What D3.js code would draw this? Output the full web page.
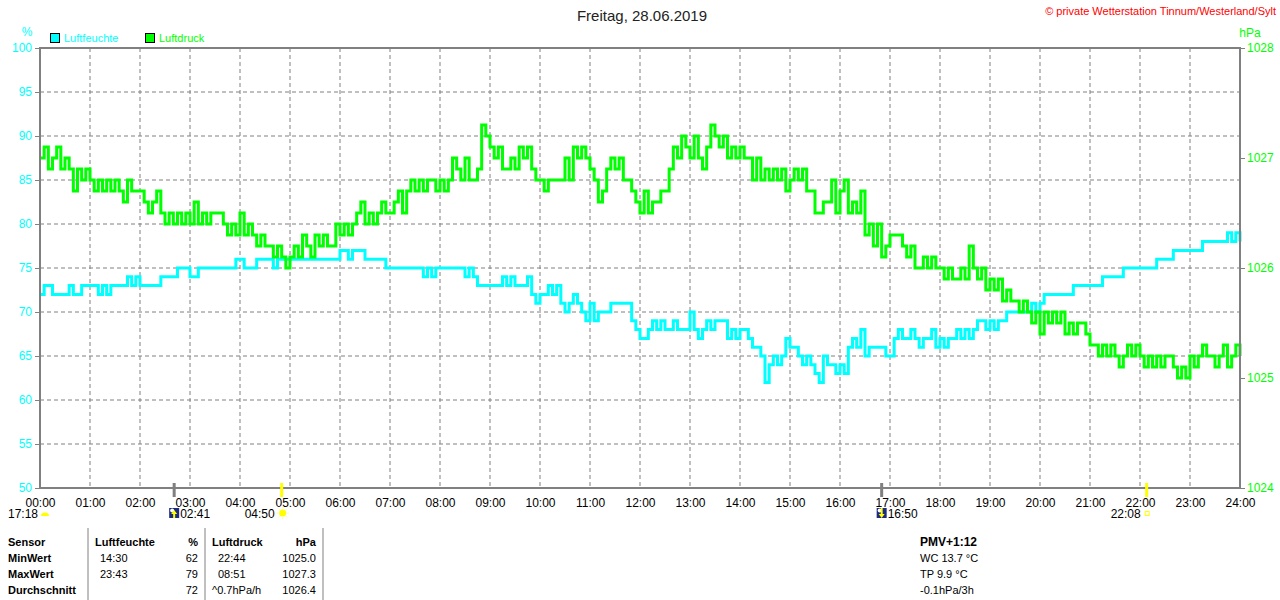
<!DOCTYPE html>
<html>
<head>
<meta charset="utf-8">
<script src="https://cdn.jsdelivr.net/npm/d3@7"></script>
<style>
  body { margin: 0; background: #fff; }
  svg { font-family: "Liberation Sans", Arial, sans-serif; display: block; }
</style>
</head>
<body>
<div id="chart"></div>
<script>
// values every 5 minutes, 00:00 .. 24:00
const humidity = [
  72,73,73,72,72,72,72,73,72,72,73,73,   // 00
  73,73,72,73,72,73,73,73,73,74,73,74,   // 01
  73,73,73,73,73,74,74,74,74,75,75,75,   // 02
  74,74,75,75,75,75,75,75,75,75,75,76,   // 03
  76,75,75,75,76,76,76,76,75,76,76,76,   // 04
  76,76,76,76,76,76,76,76,76,76,76,76,   // 05
  77,77,76,77,77,77,76,76,76,76,76,75,   // 06
  75,75,75,75,75,75,75,75,74,75,74,75,   // 07
  75,75,75,75,75,75,74,75,74,73,73,73,   // 08
  73,73,73,74,73,74,73,73,73,74,72,71,   // 09
  72,72,73,72,73,71,70,71,72,71,70,69,   // 10
  71,69,70,70,70,71,71,71,71,71,69,68,   // 11
  67,67,68,69,68,69,68,68,69,68,68,68,   // 12
  70,68,67,68,69,68,69,69,69,67,68,67,   // 13
  68,68,67,66,66,65,62,64,65,64,65,67,   // 14
  66,66,65,64,65,64,63,62,65,64,64,63,   // 15
  64,63,66,67,66,68,65,66,66,66,66,65,   // 16
  65,67,68,67,67,68,67,66,67,67,68,66,   // 17
  67,66,67,67,68,67,68,67,68,69,69,68,   // 18
  69,68,69,69,70,70,70,70,70,70,71,70,   // 19
  71,72,72,72,72,72,72,72,73,73,73,73,   // 20
  73,73,73,74,74,74,74,74,75,75,75,75,   // 21
  75,75,75,75,76,76,76,76,77,77,77,77,   // 22
  77,77,77,78,78,78,78,78,78,79,78,79,   // 23
  78
];

const pressure = [
  1027.0,1027.1,1026.9,1027.0,1027.1,1026.9,1027.0,1026.9,1026.7,1026.9,1026.8,1026.9, // 00
  1026.8,1026.7,1026.8,1026.7,1026.8,1026.7,1026.8,1026.7,1026.6,1026.8,1026.7,1026.7, // 01
  1026.7,1026.6,1026.5,1026.6,1026.7,1026.5,1026.4,1026.5,1026.4,1026.5,1026.4,1026.5, // 02
  1026.4,1026.6,1026.4,1026.5,1026.4,1026.5,1026.5,1026.5,1026.4,1026.3,1026.4,1026.3, // 03
  1026.5,1026.3,1026.4,1026.3,1026.2,1026.3,1026.2,1026.2,1026.1,1026.2,1026.1,1026.0, // 04
  1026.1,1026.2,1026.1,1026.3,1026.2,1026.1,1026.3,1026.2,1026.3,1026.2,1026.2,1026.4, // 05
  1026.3,1026.4,1026.3,1026.4,1026.5,1026.6,1026.4,1026.5,1026.4,1026.5,1026.6,1026.5, // 06
  1026.5,1026.6,1026.7,1026.5,1026.7,1026.8,1026.7,1026.8,1026.7,1026.8,1026.8,1026.7, // 07
  1026.8,1026.7,1026.8,1027.0,1026.9,1026.8,1027.0,1026.8,1026.8,1026.9,1027.3,1027.2, // 08
  1027.1,1027.0,1027.1,1026.9,1026.9,1027.0,1026.9,1027.1,1027.0,1027.1,1026.9,1026.8, // 09
  1026.8,1026.7,1026.8,1026.8,1026.8,1026.8,1027.0,1026.8,1027.1,1027.0,1027.1,1027.0, // 10
  1026.9,1026.8,1026.6,1026.7,1026.9,1027.0,1026.9,1027.0,1026.8,1026.8,1026.7,1026.6, // 11
  1026.5,1026.7,1026.5,1026.6,1026.6,1026.7,1026.7,1026.9,1027.1,1027.0,1027.2,1027.1, // 12
  1027.0,1027.2,1027.0,1026.9,1027.1,1027.3,1027.2,1027.1,1027.2,1027.0,1027.1,1027.0, // 13
  1027.1,1027.0,1027.0,1026.8,1027.0,1026.8,1026.9,1026.8,1026.9,1026.8,1026.9,1026.7, // 14
  1026.8,1026.9,1026.8,1026.9,1026.7,1026.7,1026.5,1026.5,1026.6,1026.6,1026.8,1026.5, // 15
  1026.7,1026.8,1026.5,1026.6,1026.5,1026.7,1026.3,1026.4,1026.2,1026.4,1026.1,1026.2, // 16
  1026.3,1026.3,1026.3,1026.2,1026.1,1026.2,1026.0,1026.0,1026.1,1026.0,1026.1,1026.0, // 17
  1026.0,1025.9,1026.0,1025.9,1025.9,1026.0,1025.9,1026.2,1026.0,1025.9,1026.0,1025.8, // 18
  1025.9,1025.8,1025.9,1025.7,1025.8,1025.7,1025.7,1025.6,1025.7,1025.6,1025.5,1025.6, // 19
  1025.4,1025.6,1025.5,1025.6,1025.5,1025.6,1025.4,1025.5,1025.4,1025.5,1025.5,1025.4, // 20
  1025.3,1025.3,1025.2,1025.3,1025.2,1025.3,1025.2,1025.1,1025.2,1025.3,1025.2,1025.3, // 21
  1025.2,1025.1,1025.2,1025.1,1025.2,1025.1,1025.2,1025.2,1025.1,1025.0,1025.1,1025.0, // 22
  1025.2,1025.1,1025.2,1025.3,1025.2,1025.2,1025.1,1025.2,1025.3,1025.1,1025.2,1025.3, // 23
  1025.2
];

const humTicks = [50,55,60,65,70,75,80,85,90,95,100];
const pressTicks = [1024,1025,1026,1027,1028];
const hourTicks = d3.range(0, 25);

// sun / moon events: [time label, kind]
const events = [
  ["02:41", "moonrise"],
  ["04:50", "sunrise"],
  ["16:50", "moonset"],
  ["22:08", "sunset"]
];

const tableHead = ["Sensor", "Luftfeuchte", "%", "Luftdruck", "hPa"];
const tableRows = [
  ["MinWert", "14:30", "62", "22:44", "1025.0"],
  ["MaxWert", "23:43", "79", "08:51", "1027.3"],
  ["Durchschnitt", "", "72", "^0.7hPa/h", "1026.4"]
];
const infoLines = ["PMV+1:12", "WC 13.7 °C", "TP 9.9 °C", "-0.1hPa/3h"];

const width = 1280, height = 600;
const margin = { top: 48, bottom: 112, left: 40, right: 40 };
const cyan = "#00ffff", green = "#00ff00", gray = "#808080";

const svg = d3.select("#chart").append("svg")
    .attr("width", width)
    .attr("height", height);

const xScale = d3.scaleLinear()
    .domain([0, 1440])
    .range([margin.left, width - margin.right]);
const yHum = d3.scaleLinear()
    .domain([50, 100])
    .range([height - margin.bottom, margin.top]);
const yPress = d3.scaleLinear()
    .domain([1024, 1028])
    .range([height - margin.bottom, margin.top]);

const x0 = margin.left, x1 = width - margin.right;
const y0 = margin.top, y1 = height - margin.bottom;

// grid
svg.append("g").selectAll("line")
    .data(humTicks.slice(1, -1))
    .enter().append("line")
    .attr("x1", x0).attr("x2", x1)
    .attr("y1", d => yHum(d)).attr("y2", d => yHum(d))
    .attr("stroke", gray).attr("stroke-dasharray", "4,3");
svg.append("g").selectAll("line")
    .data(hourTicks.slice(1, -1))
    .enter().append("line")
    .attr("x1", d => xScale(d * 60)).attr("x2", d => xScale(d * 60))
    .attr("y1", y0).attr("y2", y1)
    .attr("stroke", gray).attr("stroke-dasharray", "4,3");

// series
const stepLine = yFn => d3.line()
    .x((d, i) => xScale(i * 5))
    .y(d => yFn(d))
    .curve(d3.curveStepAfter);

svg.append("path")
    .attr("d", stepLine(yHum)(humidity))
    .attr("fill", "none").attr("stroke", cyan).attr("stroke-width", 3);
svg.append("path")
    .attr("d", stepLine(yPress)(pressure))
    .attr("fill", "none").attr("stroke", green).attr("stroke-width", 3);

// frame
svg.append("rect")
    .attr("x", x0).attr("y", y0)
    .attr("width", x1 - x0).attr("height", y1 - y0)
    .attr("fill", "none").attr("stroke", gray).attr("stroke-width", 2);

// axes
const axisFont = "Liberation Sans, Arial, sans-serif";
const leftAxis = svg.append("g")
    .attr("transform", `translate(${x0},0)`)
    .call(d3.axisLeft(yHum).tickValues(humTicks).tickSize(5).tickPadding(3).tickFormat(d3.format("d")));
leftAxis.selectAll("text").attr("fill", cyan).style("font-size", "12px").style("font-family", axisFont);

const rightAxis = svg.append("g")
    .attr("transform", `translate(${x1},0)`)
    .call(d3.axisRight(yPress).tickValues(pressTicks).tickSize(5).tickPadding(2).tickFormat(d3.format("d")));
rightAxis.selectAll("text").attr("fill", green).style("font-size", "12px").style("font-family", axisFont);

const bottomAxis = svg.append("g")
    .attr("transform", `translate(0,${y1})`)
    .call(d3.axisBottom(xScale)
        .tickValues(hourTicks.map(h => h * 60))
        .tickSize(0).tickPadding(10)
        .tickFormat(d => String(d / 60).padStart(2, "0") + ":00"));
bottomAxis.selectAll("text").attr("fill", "#000").style("font-size", "12px").style("font-family", axisFont);

[leftAxis, rightAxis, bottomAxis].forEach(a => {
  a.select(".domain").remove();
  a.selectAll("line").attr("stroke", gray);
});

// unit labels
svg.append("text").attr("x", 27).attr("y", 36).attr("text-anchor", "middle")
    .attr("fill", cyan).style("font-size", "12px").text("%");
svg.append("text").attr("x", 1250).attr("y", 37).attr("text-anchor", "middle")
    .attr("fill", green).style("font-size", "12px").text("hPa");

// title
svg.append("text").attr("x", 642).attr("y", 21).attr("text-anchor", "middle")
    .attr("fill", "#222").style("font-size", "15px").text("Freitag, 28.06.2019");
svg.append("text").attr("x", 1276).attr("y", 15).attr("text-anchor", "end")
    .attr("fill", "#ff0000").style("font-size", "11px").text("© private Wetterstation Tinnum/Westerland/Sylt");

// legend
const legend = [["Luftfeuchte", cyan, 50], ["Luftdruck", green, 145]];
legend.forEach(([name, col, lx]) => {
  svg.append("rect").attr("x", lx + 0.5).attr("y", 33.5).attr("width", 9).attr("height", 9)
      .attr("fill", col).attr("stroke", "#000");
  svg.append("text").attr("x", lx + 14).attr("y", 42)
      .attr("fill", col).style("font-size", "11px").text(name);
});

// sun / moon markers
const toMin = t => +t.slice(0, 2) * 60 + +t.slice(3);
events.forEach(([t, kind]) => {
  const ex = xScale(toMin(t));
  const isSun = kind.startsWith("sun");
  svg.append("line").attr("x1", ex).attr("x2", ex).attr("y1", y1 - 5).attr("y2", y1 + 9)
      .attr("stroke", isSun ? "#ffff00" : gray).attr("stroke-width", 3);
  const g = svg.append("g");
  if (kind === "sunrise") {
    g.append("circle").attr("cx", ex + 1).attr("cy", 513).attr("r", 3.5).attr("fill", "#ffff00");
    d3.range(8).forEach(k => {
      const a = k * Math.PI / 4;
      g.append("line").attr("x1", ex + 1 + Math.cos(a) * 4.5).attr("y1", 513 + Math.sin(a) * 4.5)
          .attr("x2", ex + 1 + Math.cos(a) * 6).attr("y2", 513 + Math.sin(a) * 6)
          .attr("stroke", "#ffff80").attr("stroke-width", 1);
    });
    g.append("text").attr("x", ex - 7).attr("y", 518).attr("text-anchor", "end")
        .style("font-size", "12px").text(t);
  } else if (kind === "sunset") {
    g.append("rect").attr("x", ex - 1.5).attr("y", 511.5).attr("width", 4).attr("height", 4)
        .attr("fill", "none").attr("stroke", "#ffff00");
    g.append("text").attr("x", ex - 6).attr("y", 518).attr("text-anchor", "end")
        .style("font-size", "12px").text(t);
  } else {
    g.append("rect").attr("x", ex - 5).attr("y", 508).attr("width", 10).attr("height", 10).attr("fill", "#1c2a80");
    g.append("circle").attr("cx", ex - 2).attr("cy", 510.5).attr("r", 2).attr("fill", "#fff");
    const up = kind === "moonrise";
    g.append("path")
        .attr("d", up ? `M${ex},510 L${ex + 3},514 L${ex + 1},514 L${ex + 1},518 L${ex - 1},518 L${ex - 1},514 L${ex - 3},514 Z`
                      : `M${ex},518 L${ex + 3},514 L${ex + 1},514 L${ex + 1},508 L${ex - 1},508 L${ex - 1},514 L${ex - 3},514 Z`)
        .attr("fill", "#ffff00");
    g.append("text").attr("x", ex + 6).attr("y", 518)
        .style("font-size", "12px").text(t);
  }
});
// previous moon event before midnight
svg.append("text").attr("x", 38).attr("y", 518).attr("text-anchor", "end").style("font-size", "12px").text("17:18");
svg.append("path").attr("d", "M41,516 A4,3.5 0 0 1 49,516 Z").attr("fill", "#ffff00");

// table
const colX = [8, 95, 198, 212, 316];
const colAnchor = ["start", "start", "end", "start", "end"];
const rowY = [546, 562, 578, 594];
[88, 205, 323].forEach(lx => {
  svg.append("line").attr("x1", lx).attr("x2", lx).attr("y1", 528).attr("y2", 600)
      .attr("stroke", gray).attr("stroke-width", 1);
});
tableHead.forEach((h, i) => {
  svg.append("text").attr("x", colX[i]).attr("y", rowY[0]).attr("text-anchor", colAnchor[i])
      .style("font-size", "11px").style("font-weight", "bold").text(h);
});
tableRows.forEach((row, r) => {
  row.forEach((v, i) => {
    const xx = i === 1 ? 100 : i === 3 ? (v.startsWith("^") ? 212 : 218) : colX[i];
    svg.append("text").attr("x", xx).attr("y", rowY[r + 1]).attr("text-anchor", colAnchor[i])
        .style("font-size", "11px").style("font-weight", i === 0 ? "bold" : "normal").text(v);
  });
});

// info block
infoLines.forEach((s, i) => {
  svg.append("text").attr("x", 920).attr("y", rowY[i])
      .style("font-size", i === 0 ? "12px" : "11px").style("font-weight", i === 0 ? "bold" : "normal").text(s);
});
</script>
</body>
</html>
